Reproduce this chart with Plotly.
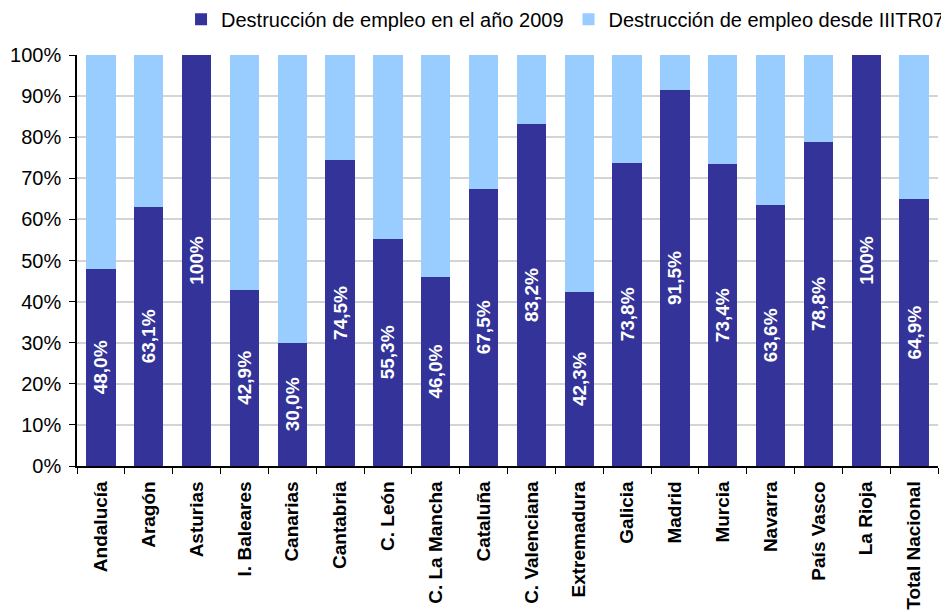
import plotly.graph_objects as go

categories = ["Andalucía", "Aragón", "Asturias", "I. Baleares", "Canarias", "Cantabria",
              "C. León", "C. La Mancha", "Cataluña", "C. Valenciana", "Extremadura",
              "Galicia", "Madrid", "Murcia", "Navarra", "País Vasco", "La Rioja",
              "Total Nacional"]
empleo_2009 = [48.0, 63.1, 100.0, 42.9, 30.0, 74.5, 55.3, 46.0, 67.5, 83.2, 42.3,
               73.8, 91.5, 73.4, 63.6, 78.8, 100.0, 64.9]
desde_iiitr07 = [round(100 - v, 1) for v in empleo_2009]
y_ticks = [0, 10, 20, 30, 40, 50, 60, 70, 80, 90, 100]
y_tick_labels = [f"{t}%" for t in y_ticks]


def fmt(v):
    if v >= 100:
        return "100%"
    return f"{v:.1f}".replace(".", ",") + "%"


labels_2009 = [fmt(v) for v in empleo_2009]

DARK = "#333399"
LIGHT = "#99CCFF"
FONT = "Liberation Sans, Arial, sans-serif"

fig = go.Figure()
fig.add_trace(go.Bar(
    x=categories, y=empleo_2009, name="Destrucción de empleo en el año 2009",
    marker=dict(color=DARK, line=dict(width=0)),
    text=labels_2009, textposition="inside", insidetextanchor="middle",
    textangle=-90, constraintext="none",
    textfont=dict(color="white", size=19, family=FONT, weight="bold"),
))
fig.add_trace(go.Bar(
    x=categories, y=desde_iiitr07, name="Destrucción de empleo desde IIITR07",
    marker=dict(color=LIGHT, line=dict(width=0)),
    hoverinfo="skip",
))

fig.update_layout(
    width=941, height=604,
    barmode="stack", bargap=0.39,
    plot_bgcolor="white", paper_bgcolor="white",
    margin=dict(l=69, r=11, t=47, b=146, autoexpand=False),
    font=dict(family=FONT, color="black", size=18),
    showlegend=True,
    legend=dict(orientation="h", traceorder="normal",
                x=1.014, xanchor="right", y=1.087, yanchor="middle",
                font=dict(size=20, family=FONT), itemwidth=30,
                bgcolor="rgba(0,0,0,0)"),
)
fig.update_xaxes(
    type="category", tickangle=-90, tickson="boundaries",
    ticks="outside", ticklen=6, tickcolor="black",
    showline=True, linecolor="black", linewidth=1.5,
    tickfont=dict(size=19, family=FONT, weight="bold"),
    ticklabelstandoff=6,
    showgrid=False,
)
fig.update_yaxes(
    range=[0, 100], tickvals=y_ticks, ticktext=y_tick_labels,
    ticks="outside", ticklen=6, tickcolor="black",
    showline=True, linecolor="black", linewidth=1.5,
    showgrid=True, gridcolor="#d4d4d4", gridwidth=1.5,
    zeroline=False,
    ticklabelstandoff=4,
    tickfont=dict(size=20, family=FONT),
)

fig.write_html("out.html")
